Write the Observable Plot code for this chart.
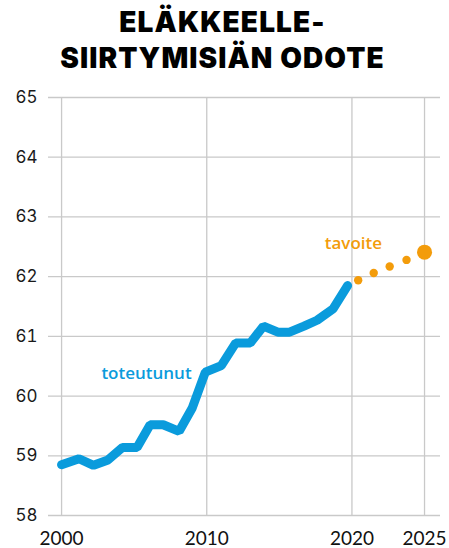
<!DOCTYPE html>
<html>
<head>
<meta charset="utf-8">
<script src="https://cdn.jsdelivr.net/npm/d3@7"></script>
<script src="https://cdn.jsdelivr.net/npm/@observablehq/plot@0.6"></script>
<style>
  html, body { margin: 0; padding: 0; background: #fff; }
  #title {
    height: 80px; box-sizing: border-box; padding-top: 4px; padding-right: 4px;
    text-align: center; font-family: Inter, sans-serif; font-weight: 900;
    font-size: 28px; line-height: 36px; color: #000; letter-spacing: 1.1px;
  }
  #chart svg { display: block; }
</style>
</head>
<body>
<div id="title">ELÄKKEELLE-<br>SIIRTYMISIÄN ODOTE</div>
<div id="chart"></div>
<script>
// Realised expectancy (toteutunut) — x positions in years
const actualYears = [2000, 2001.2, 2002.2, 2003.2, 2004.2, 2005.2, 2006.1, 2007.0, 2008.1, 2009.0, 2009.9,
                     2011.0, 2012.0, 2013.0, 2013.9, 2014.9, 2015.7, 2016.7, 2017.6, 2018.7, 2019.7];
const actualValues = [58.85, 58.95, 58.84, 58.93, 59.14, 59.14, 59.52, 59.52, 59.41, 59.80, 60.40,
                      60.51, 60.89, 60.89, 61.17, 61.07, 61.07, 61.17, 61.27, 61.46, 61.85];
// Target path (tavoite)
const targetYears = [2020.43, 2021.5, 2022.6, 2023.76, 2025.0];
const targetValues = [61.94, 62.06, 62.17, 62.28, 62.41];
// Axis ticks
const xTicks = [2000, 2010, 2020, 2025];
const yTicks = [58, 59, 60, 61, 62, 63, 64, 65];
const labels = ["toteutunut", "tavoite"];

const blue = "#0a9bdc";
const orange = "#f39c0b";
const grid = "#c9c9c9";

const actual = actualYears.map((x, i) => ({x, y: actualValues[i]}));
const target = targetYears.map((x, i) => ({x, y: targetValues[i]}));
const last = target.length - 1;

const plot = Plot.plot({
  width: 449,
  height: 468,
  marginTop: 17,
  marginBottom: 33,
  marginLeft: 48,
  marginRight: 9,
  x: {domain: [1999.1, 2026.1]},
  y: {domain: [58, 65]},
  style: {fontFamily: "Inter, sans-serif", background: "#fff", overflow: "visible"},
  marks: [
    Plot.ruleY(yTicks, {stroke: grid, strokeWidth: 1.3}),
    Plot.ruleX(xTicks, {y1: 58, y2: 65, stroke: grid, strokeWidth: 1.3}),
    Plot.axisY(yTicks, {tickSize: 0, tickPadding: 11, fontSize: 17, fill: "#1a1a1a", label: null,
                        tickFormat: d => String(d), fontFamily: "Inter, sans-serif"}),
    Plot.axisX(xTicks, {tickSize: 0, tickPadding: 16, fontSize: 19, fill: "#111", label: null,
                        tickFormat: d => String(d), fontFamily: "Lato, sans-serif"}),
    Plot.line(actual, {x: "x", y: "y", stroke: blue, strokeWidth: 9, strokeLinecap: "round", strokeLinejoin: "miter", curve: "linear"}),
    Plot.dot(target.filter((d, i) => i < last), {x: "x", y: "y", r: 4.2, fill: orange}),
    Plot.dot(target.filter((d, i) => i === last), {x: "x", y: "y", r: 7.5, fill: orange}),
    Plot.text([labels[0]], {x: 2005.85, y: 60.38, text: d => d, fill: blue, fontSize: 17, fontWeight: 600,
                            fontFamily: "Open Sans, sans-serif"}),
    Plot.text([labels[1]], {x: 2020.1, y: 62.55, text: d => d, fill: orange, fontSize: 17, fontWeight: 600,
                            fontFamily: "Open Sans, sans-serif"})
  ]
});
document.getElementById("chart").appendChild(plot);
</script>
</body>
</html>
